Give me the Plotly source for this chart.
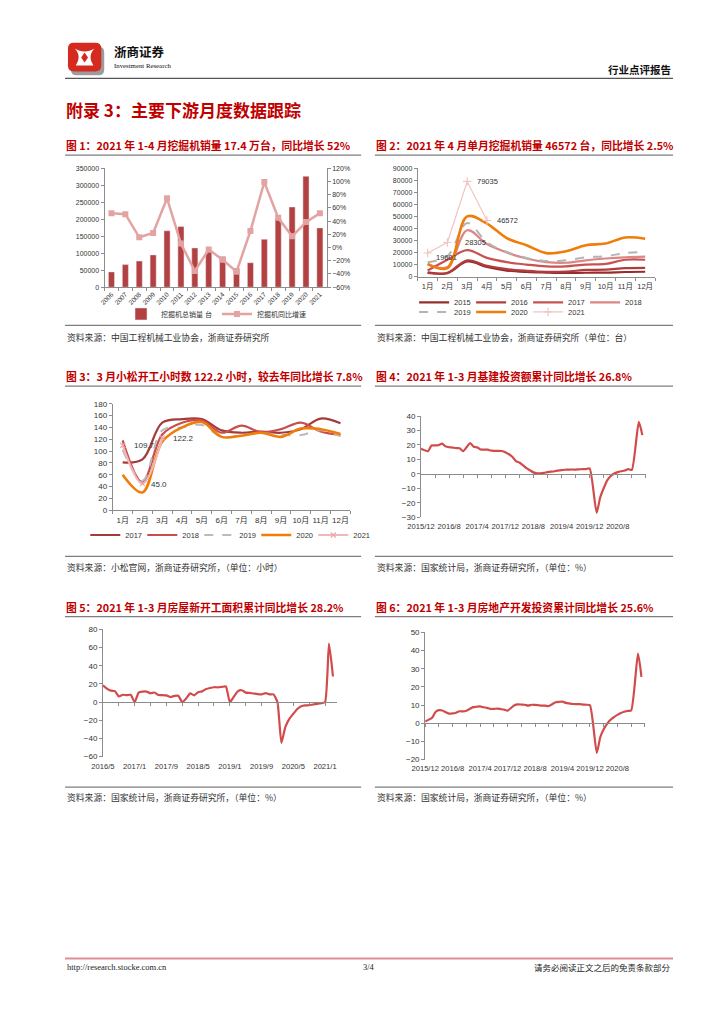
import plotly.graph_objects as go

W, H = 724, 1024


def px(x):
    return x / W


def py(y):
    return 1 - y / H


# ---------------- data ----------------
# Chart 1: annual excavator sales and YoY
years1 = ["2006", "2007", "2008", "2009", "2010", "2011", "2012", "2013",
          "2014", "2015", "2016", "2017", "2018", "2019", "2020", "2021"]
sales1 = [45000, 66500, 77000, 95000, 166000, 178500, 115500, 104000,
          90000, 56000, 72000, 141000, 201500, 236000, 326500, 174500]
yoy1 = [52, 50.5, 15.5, 22, 74.5, 6, -35.5, -3,
        -18.5, -36.5, 25, 99, 45, 17, 38.5, 52]

# Chart 2: monthly excavator sales by year
months = ["1月", "2月", "3月", "4月", "5月", "6月", "7月", "8月", "9月", "10月", "11月", "12月"]
exc_2015 = [3500, 2800, 12500, 8000, 5000, 3800, 3300, 3000, 3200, 3300, 3800, 4000]
exc_2016 = [3000, 3200, 13500, 9000, 6200, 4800, 4000, 4200, 5500, 5800, 7000, 7300]
exc_2017 = [5000, 14000, 22000, 15500, 12000, 10000, 8500, 8500, 10000, 10500, 14000, 14000]
exc_2018 = [10000, 8000, 38500, 27000, 20000, 15000, 12000, 11500, 13500, 15000, 16000, 16500]
exc_2019 = [12000, 17000, 44500, 28500, 20500, 15500, 13000, 13500, 16000, 17000, 19500, 20500]
exc_2020 = [10500, 7000, 50000, 44000, 32000, 26000, 19500, 21000, 26000, 27500, 32500, 31500]
exc_2021 = [19601, 28305, 79035, 46572]

# Chart 3: Komatsu working hours
kom_2017 = [81, 86, 148, 154, 154, 135, 131, 133, 131, 137, 155, 147]
kom_2018 = [118, 47, 128, 148, 152, 131, 143, 132, 137, 148, 133, 127]
kom_2019 = [102, 50, 135, 140, 144, 124, 127, 130, 128, 127, 135, 125]
kom_2020 = [60, 30, 116, 140, 149, 124, 126, 131, 124, 138, 137, 129]
kom_2021 = [109.7, 45.0, 122.2]

# Chart 4: infrastructure investment cumulative YoY, 2015/12 - 2021/3 (Jan not published)
infra_yoy = [17.3,
             None, 15.7, 19.6, 19.7, 19.8, 20.9, 19.0, 18.4, 18.2, 17.8, 17.7, 15.7,
             None, 21.3, 18.7, 18.3, 16.8, 16.8, 16.7, 16.0, 15.9, 15.9, 15.8, 15.0,
             None, 11.8, 8.8, 7.8, 6.0, 4.0, 2.5, 1.0, 0.3, 0.4, 0.7, 1.2,
             None, 1.8, 2.2, 2.6, 2.8, 2.9, 3.0, 2.9, 3.1, 3.2, 3.3, 3.8,
             None, -26.9, -16.4, -10.0, -4.5, -1.5, 0.2, 1.2, 1.8, 2.3, 3.3, 2.7,
             None, 35.9, 26.8]

# Chart 5: new housing starts area cumulative YoY, 2016/5 - 2021/3
newstart_yoy = [18.5, 14.9, 12.6, 12.1, 6.3, 8.1, 7.6, 8.1,
                0, 10.4, 11.6, 11.5, 9.8, 10.6, 7.9, 7.8, 7.4, 5.6, 6.8, 7.0,
                0, 4.0, 9.7, 7.5, 11.0, 11.8, 14.4, 15.6, 16.4, 16.3, 16.8, 17.2,
                0, 6.0, 11.9, 13.1, 10.5, 10.1, 9.5, 8.9, 8.6, 10.0, 8.6, 8.5,
                0, -44.9, -27.2, -18.4, -12.8, -7.6, -4.5, -3.6, -3.4, -2.6, -2.0, -1.2,
                0, 64.3, 28.2]

# Chart 6: real estate development investment cumulative YoY, 2015/12 - 2021/3
realestate_yoy = [1.0,
                  None, 3.0, 6.2, 7.2, 7.0, 6.1, 5.3, 5.4, 5.8, 6.6, 6.5, 6.9,
                  None, 8.9, 9.1, 9.3, 8.8, 8.5, 7.9, 7.9, 8.1, 7.8, 7.5, 7.0,
                  None, 9.9, 10.4, 10.3, 10.2, 9.7, 10.2, 10.1, 9.9, 9.7, 9.7, 9.5,
                  None, 11.6, 11.8, 11.9, 11.2, 10.9, 10.6, 10.5, 10.5, 10.3, 10.2, 9.9,
                  None, -16.3, -7.7, -3.3, -0.3, 1.9, 3.4, 4.6, 5.6, 6.3, 6.8, 7.0,
                  None, 38.3, 25.6]

all_months = [f"{y}/{m}" for y in range(2015, 2022) for m in range(1, 13)]
months_a = all_months[all_months.index("2015/12"): all_months.index("2021/3") + 1]
months_b = all_months[all_months.index("2016/5"): all_months.index("2021/3") + 1]

# ---------------- styles ----------------
RED_T = "#c00000"
AXC = "#8c8c8c"
NUMF = "Liberation Sans, Arial, Noto Sans CJK SC"
CJK = "Noto Sans CJK SC"
LINE_C = "#d24b4b"


def base_axis(**kw):
    d = dict(showgrid=False, zeroline=False, showline=True, linecolor=AXC, linewidth=1,
             ticks="outside", ticklen=3, tickcolor=AXC, tickangle=0,
             tickfont=dict(family=NUMF, size=7.5, color="#333"))
    d.update(kw)
    return d


fig = go.Figure()

# ----- chart 1 -----
fig.add_trace(go.Bar(x=years1, y=sales1, name="挖掘机总销量 台", marker_color="#b34141",
                     width=0.44, xaxis="x", yaxis="y", legend="legend"))
fig.add_trace(go.Scatter(x=years1, y=[v / 100 for v in yoy1], name="挖掘机同比增速",
                         mode="lines+markers", line=dict(color="#e4a3a3", width=2.5),
                         marker=dict(symbol="square", size=6, color="#e4a3a3"),
                         xaxis="x", yaxis="y2", legend="legend"))

# ----- chart 2 -----
c2 = [("2015", exc_2015, "#962d2d", "solid", 2.2, "legend2"),
      ("2016", exc_2016, "#b23c3c", "solid", 2.2, "legend2"),
      ("2017", exc_2017, "#c85252", "solid", 2.2, "legend2"),
      ("2018", exc_2018, "#dc8686", "solid", 2.2, "legend2"),
      ("2019", exc_2019, "#b4b4b4", "dash", 2.0, "legend3"),
      ("2020", exc_2020, "#f07d0a", "solid", 2.6, "legend3")]
for name, vals, col, dash, wd, lg in c2:
    fig.add_trace(go.Scatter(x=months, y=vals, name=name, mode="lines",
                             line=dict(color=col, width=wd, dash=dash, shape="spline", smoothing=1.0),
                             xaxis="x2", yaxis="y3", legend=lg))
fig.add_trace(go.Scatter(x=months[:len(exc_2021)], y=exc_2021, name="2021", mode="lines+markers",
                         line=dict(color="#f2c4c4", width=1.2),
                         marker=dict(symbol="cross-thin", size=6, line=dict(color="#f2c4c4", width=1.2)),
                         xaxis="x2", yaxis="y3", legend="legend3"))

# ----- chart 3 -----
c3 = [("2017", kom_2017, "#a33b3b", "solid", 2.2),
      ("2018", kom_2018, "#c84e4e", "solid", 2.2),
      ("2019", kom_2019, "#bababa", "dash", 2.0),
      ("2020", kom_2020, "#f07d0a", "solid", 2.6)]
for name, vals, col, dash, wd in c3:
    fig.add_trace(go.Scatter(x=months, y=vals, name=name, mode="lines",
                             line=dict(color=col, width=wd, dash=dash, shape="spline", smoothing=1.0),
                             xaxis="x3", yaxis="y4", legend="legend4"))
fig.add_trace(go.Scatter(x=months[:len(kom_2021)], y=kom_2021, name="2021", mode="lines+markers",
                         line=dict(color="#f0b9b9", width=2.2, shape="spline"),
                         marker=dict(symbol="x-thin", size=5, line=dict(color="#e8a8a8", width=1.2)),
                         xaxis="x3", yaxis="y4", legend="legend4"))

# ----- charts 4, 5, 6 -----
idx_a = list(range(len(months_a)))
idx_b = list(range(len(months_b)))
fig.add_trace(go.Scatter(x=idx_a, y=infra_yoy, mode="lines", connectgaps=True, showlegend=False,
                         line=dict(color=LINE_C, width=2.2, shape="spline", smoothing=0.6),
                         xaxis="x4", yaxis="y5"))
fig.add_trace(go.Scatter(x=idx_b, y=newstart_yoy, mode="lines", connectgaps=True, showlegend=False,
                         line=dict(color=LINE_C, width=2.2, shape="spline", smoothing=0.5),
                         xaxis="x6", yaxis="y6"))
fig.add_trace(go.Scatter(x=idx_a, y=realestate_yoy, mode="lines", connectgaps=True, showlegend=False,
                         line=dict(color=LINE_C, width=2.2, shape="spline", smoothing=0.6),
                         xaxis="x8", yaxis="y7"))
# empty traces to carry the zero-line tick axes
for xa, ya in (("x5", "y5"), ("x7", "y6"), ("x9", "y7")):
    fig.add_trace(go.Scatter(x=[None], y=[None], mode="lines", showlegend=False,
                             hoverinfo="skip", xaxis=xa, yaxis=ya))

# ---------------- domains ----------------
d1x, d1y = [px(92.3), px(319)], [py(285.7), py(165.7)]
d2x, d2y = [px(411.7), px(653.7)], [py(275), py(165.7)]
d3x, d3y = [px(100.7), px(343)], [py(510.7), py(403.3)]
d4x, d4y = [px(415), px(644.3)], [py(517.7), py(415.7)]
d5x, d5y = [px(90.7), px(329.3)], [py(759.3), py(631)]
d6x, d6y = [px(419.3), px(643.3)], [py(762.3), py(634)]

r4, r5, r6 = [-30, 40], [-60, 80], [-20, 50]


def zero_pos(dom, rng):
    return dom[0] + (0 - rng[0]) / (rng[1] - rng[0]) * (dom[1] - dom[0])


lab_a = [months_a[i] for i in range(0, len(months_a), 8)]
lab_b = [months_b[i] for i in range(0, len(months_b), 8)]

layout = dict(
    width=W, height=H, autosize=False, margin=dict(l=0, r=0, t=0, b=0),
    paper_bgcolor="white", plot_bgcolor="white", showlegend=True,
    # chart 1
    xaxis=base_axis(domain=d1x, anchor="y", type="category", tickson="boundaries", tickangle=-45,
                    range=[-0.5, len(years1) - 0.5], tickfont=dict(family=NUMF, size=6.5, color="#333")),
    yaxis=base_axis(domain=d1y, anchor="x", range=[0, 350000], dtick=50000, tickformat="d",
                    tickfont=dict(family=NUMF, size=7, color="#333")),
    yaxis2=base_axis(overlaying="y", side="right", anchor="x", range=[-0.6, 1.2], dtick=0.2,
                     tickformat=".0%", tickfont=dict(family=NUMF, size=7, color="#333")),
    # chart 2
    xaxis2=base_axis(domain=d2x, anchor="y3", type="category", tickson="boundaries",
                     range=[-0.5, 11.5], ticklabelstandoff=2),
    yaxis3=base_axis(domain=d2y, anchor="x2", range=[0, 90000], dtick=10000, tickformat="d",
                     tickfont=dict(family=NUMF, size=7, color="#333")),
    # chart 3
    xaxis3=base_axis(domain=d3x, anchor="y4", type="category", tickson="boundaries",
                     range=[-0.5, 11.5], ticklabelstandoff=2,
                     tickfont=dict(family=NUMF, size=8, color="#333")),
    yaxis4=base_axis(domain=d3y, anchor="x3", range=[0, 180], dtick=20,
                     tickfont=dict(family=NUMF, size=8, color="#333")),
    # chart 4
    xaxis4=base_axis(domain=d4x, anchor="y5", range=[0, 64], showline=False, ticks="",
                     tickvals=list(range(0, len(months_a), 8)), ticktext=lab_a, ticklabelstandoff=3,
                     tickfont=dict(family=NUMF, size=7.6, color="#333")),
    xaxis5=base_axis(overlaying="x4", anchor="free", position=zero_pos(d4y, r4), range=[0, 64],
                     tickvals=list(range(0, 65, 4)), showticklabels=False),
    yaxis5=base_axis(domain=d4y, anchor="x4", range=r4, dtick=10,
                     tickfont=dict(family=NUMF, size=8, color="#333")),
    # chart 5
    xaxis6=base_axis(domain=d5x, anchor="y6", range=[0, 59], showline=False, ticks="",
                     tickvals=list(range(0, len(months_b), 8)), ticktext=lab_b, ticklabelstandoff=4,
                     tickfont=dict(family=NUMF, size=7.6, color="#333")),
    xaxis7=base_axis(overlaying="x6", anchor="free", position=zero_pos(d5y, r5), range=[0, 59],
                     tickvals=list(range(0, 60, 4)), showticklabels=False),
    yaxis6=base_axis(domain=d5y, anchor="x6", range=r5, dtick=20,
                     tickfont=dict(family=NUMF, size=8, color="#333")),
    # chart 6
    xaxis8=base_axis(domain=d6x, anchor="y7", range=[0, 64], showline=False, ticks="",
                     tickvals=list(range(0, len(months_a), 8)), ticktext=lab_a, ticklabelstandoff=3,
                     tickfont=dict(family=NUMF, size=7.6, color="#333")),
    xaxis9=base_axis(overlaying="x8", anchor="free", position=zero_pos(d6y, r6), range=[0, 64],
                     tickvals=list(range(0, 65, 4)), showticklabels=False),
    yaxis7=base_axis(domain=d6y, anchor="x8", range=r6, dtick=10,
                     tickfont=dict(family=NUMF, size=8, color="#333")),
    # legends
    legend=dict(orientation="h", x=px(206), xanchor="center", y=py(312.7), yanchor="middle",
                font=dict(family=NUMF, size=7, color="#333"), bgcolor="rgba(0,0,0,0)",
                itemwidth=30, tracegroupgap=0),
    legend2=dict(orientation="h", x=px(408), xanchor="left", y=py(301), yanchor="middle",
                 font=dict(family=NUMF, size=7.5, color="#333"), bgcolor="rgba(0,0,0,0)",
                 itemwidth=30, entrywidth=12, entrywidthmode="pixels"),
    legend3=dict(orientation="h", x=px(408), xanchor="left", y=py(310.7), yanchor="middle",
                 font=dict(family=NUMF, size=7.5, color="#333"), bgcolor="rgba(0,0,0,0)",
                 itemwidth=30, entrywidth=12, entrywidthmode="pixels"),
    legend4=dict(orientation="h", x=px(218), xanchor="center", y=py(535.7), yanchor="middle",
                 font=dict(family=NUMF, size=7.5, color="#333"), bgcolor="rgba(0,0,0,0)",
                 itemwidth=30, entrywidth=12, entrywidthmode="pixels"),
)
fig.update_layout(**layout)

# ---------------- annotations ----------------
ann = []


def text(x, y, s, size, color="#000", family=CJK, xanchor="left", bold=False):
    ann.append(dict(x=px(x), y=py(y), xref="paper", yref="paper", text=(f"<b>{s}</b>" if bold else s),
                    showarrow=False, xanchor=xanchor, yanchor="middle",
                    font=dict(family=family, size=size, color=color)))


# header
text(100, 48, "浙商证券", 12.5, "#111", CJK, bold=True)
text(100, 62, "Investment Research", 6.8, "#111", "Liberation Serif")
text(672, 66, "行业点评报告", 10.5, "#111", CJK, xanchor="right", bold=True)
text(51, 106, "附录 3：主要下游月度数据跟踪", 17, RED_T, CJK, bold=True)

# chart titles
text(51, 142, "图 1：2021 年 1-4 月挖掘机销量 17.4 万台，同比增长 52%", 10.8, RED_T, CJK, bold=True)
text(367, 142, "图 2：2021 年 4 月单月挖掘机销量 46572 台，同比增长 2.5%", 10.8, RED_T, CJK, bold=True)
text(51, 375, "图 3：3 月小松开工小时数 122.2 小时，较去年同比增长 7.8%", 10.8, RED_T, CJK, bold=True)
text(367, 375, "图 4：2021 年 1-3 月基建投资额累计同比增长 26.8%", 10.8, RED_T, CJK, bold=True)
text(51, 608, "图 5：2021 年 1-3 月房屋新开工面积累计同比增长 28.2%", 10.8, RED_T, CJK, bold=True)
text(367, 608, "图 6：2021 年 1-3 月房地产开发投资累计同比增长 25.6%", 10.8, RED_T, CJK, bold=True)

# sources
SRC = "#333"
SRS = 8.8
text(52, 336, "资料来源：中国工程机械工业协会，浙商证券研究所", SRS, SRC)
text(368, 336, "资料来源：中国工程机械工业协会，浙商证券研究所（单位：台）", SRS, SRC)
text(52, 568, "资料来源：小松官网，浙商证券研究所，（单位：小时）", SRS, SRC)
text(368, 568, "资料来源：国家统计局，浙商证券研究所，（单位：%）", SRS, SRC)
text(52, 801, "资料来源：国家统计局，浙商证券研究所，（单位：%）", SRS, SRC)
text(368, 801, "资料来源：国家统计局，浙商证券研究所，（单位：%）", SRS, SRC)

# footer
text(52, 972, "http://research.stocke.com.cn", 8.5, "#222", "Liberation Serif")
text(362, 972, "3/4", 8.5, "#222", "Liberation Serif", xanchor="center")
text(672, 972, "请务必阅读正文之后的免责条款部分", 8.5, "#222", CJK, xanchor="right")

# data labels chart 2 (2021 series)
shifts2 = [(6, -5), (16, 0), (8, 0), (8, 0)]
for i, v in enumerate(exc_2021):
    ann.append(dict(x=months[i], y=v, xref="x2", yref="y3", text=str(v), showarrow=False,
                    xanchor="left", yanchor="middle", xshift=shifts2[i][0], yshift=shifts2[i][1],
                    font=dict(family=NUMF, size=7.5, color="#333")))
# data labels chart 3 (2021 series)
shifts3 = [(9, 0), (7, -1), (9, -1)]
for i, v in enumerate(kom_2021):
    ann.append(dict(x=months[i], y=v, xref="x3", yref="y4", text=f"{v:.1f}", showarrow=False,
                    xanchor="left", yanchor="middle", xshift=shifts3[i][0], yshift=shifts3[i][1],
                    font=dict(family=NUMF, size=8, color="#333")))

fig.update_layout(annotations=ann)

# ---------------- shapes ----------------
shapes = []


def hline(x0, x1, y, color="#7f7f7f", width=1.2):
    shapes.append(dict(type="line", xref="paper", yref="paper", x0=px(x0), x1=px(x1),
                       y0=py(y), y1=py(y), line=dict(color=color, width=width)))


hline(52, 672, 75, "#555", 1.3)
for yy in (152.5, 324.3, 385.5, 557.3, 618, 790):
    hline(52, 354, yy)
    hline(368, 672, yy)
hline(52, 672, 963, "#df8c94", 2)


def P(x, y):
    return f"{px(x):.5f},{py(y):.5f}"


def rrect(x0, y0, x1, y1, r):
    return (f"M{P(x0 + r, y0)} L{P(x1 - r, y0)} Q{P(x1, y0)} {P(x1, y0 + r)} "
            f"L{P(x1, y1 - r)} Q{P(x1, y1)} {P(x1 - r, y1)} L{P(x0 + r, y1)} "
            f"Q{P(x0, y1)} {P(x0, y1 - r)} L{P(x0, y0 + r)} Q{P(x0, y0)} {P(x0 + r, y0)} Z")


# logo
shapes.append(dict(type="path", xref="paper", yref="paper", path=rrect(58, 43, 92, 72, 6),
                   fillcolor="#9c9c9c", line=dict(width=0)))
shapes.append(dict(type="path", xref="paper", yref="paper", path=rrect(55, 39, 89, 68, 6),
                   fillcolor="#d42a1f", line=dict(width=0)))
shapes.append(dict(type="path", xref="paper", yref="paper",
                   path=(f"M{P(62, 45)} C{P(67, 50)} {P(67, 56)} {P(63, 62)} L{P(81, 62)} "
                         f"C{P(77, 56)} {P(77, 50)} {P(82, 45)} C{P(76, 49)} {P(68, 49)} {P(62, 45)} Z"),
                   fillcolor="white", line=dict(width=0)))
shapes.append(dict(type="path", xref="paper", yref="paper",
                   path=f"M{P(72, 49)} L{P(75.5, 54)} L{P(72, 59)} L{P(68.5, 54)} Z",
                   fillcolor="#d42a1f", line=dict(width=0)))

fig.update_layout(shapes=shapes)

fig.write_html(
    "out.html",
    config={"displayModeBar": False},
    post_script=("document.documentElement.style.margin='0';document.documentElement.style.padding='0';"
                 "document.body.style.margin='0';document.body.style.padding='0';"
                 "document.body.style.overflow='hidden';"),
)
